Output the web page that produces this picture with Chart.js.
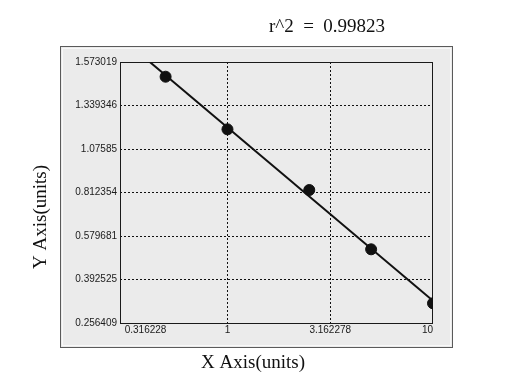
<!DOCTYPE html>
<html>
<head>
<meta charset="utf-8">
<script src="https://cdn.jsdelivr.net/npm/chart.js@4"></script>
<style>
	html, body { margin: 0; padding: 0; background: #fff; }
	#wrap { width: 515px; height: 386px; }
</style>
</head>
<body>
<div id="wrap"><canvas id="curveChart" width="515" height="386"></canvas></div>
<script>
// standard points
const concentrations = [0.5, 1, 2.5, 5, 10];
const responses = [1.4988, 1.2334, 0.9273, 0.6282, 0.3558];

// axis ticks as printed on the chart
const xTicks = [0.316228, 1, 3.162278, 10];
const xTickLabels = ["0.316228", "1", "3.162278", "10"];
const yTickLabels = ["0.256409", "0.392525", "0.579681", "0.812354", "1.07585", "1.339346", "1.573019"];

const fitLabel = "r^2  =  0.99823";
const xTitle = "X Axis(units)";
const yTitle = "Y Axis(units)";

const yMin = parseFloat(yTickLabels[0]);
const yMax = parseFloat(yTickLabels[yTickLabels.length - 1]);

// straight line fit of response vs log10(concentration)
function fitLine() {
	const lx = concentrations.map((v) => Math.log10(v));
	const n = lx.length;
	const mx = lx.reduce((a, b) => a + b, 0) / n;
	const my = responses.reduce((a, b) => a + b, 0) / n;
	let sxy = 0;
	let sxx = 0;
	for (let i = 0; i < n; i++) {
		sxy += (lx[i] - mx) * (responses[i] - my);
		sxx += (lx[i] - mx) * (lx[i] - mx);
	}
	const slope = sxy / sxx;
	const icpt = my - slope * mx;
	const ends = [xTicks[0], xTicks[xTicks.length - 1]];
	return ends.map((x) => ({ x: x, y: icpt + slope * Math.log10(x) }));
}

const edgeColor = (ctx) =>
	ctx.index === 0 || ctx.index === ctx.scale.ticks.length - 1 ? "rgba(0,0,0,0)" : "#111";

const panelPlugin = {
	id: "panel",
	beforeDraw(chart) {
		const c = chart.ctx;
		c.save();
		c.fillStyle = "#ffffff";
		c.fillRect(0, 0, chart.width, chart.height);
		// grey frame round the plot
		c.fillStyle = "#ebebeb";
		c.fillRect(60, 46, 393, 302);
		c.strokeStyle = "#5a5a5a";
		c.lineWidth = 1;
		c.strokeRect(60.5, 46.5, 392, 301);
		c.strokeStyle = "#f8f8f8";
		c.strokeRect(62.5, 48.5, 388, 297);
		c.restore();
	},
	beforeDatasetsDraw(chart) {
		const a = chart.chartArea;
		const c = chart.ctx;
		c.save();
		c.strokeStyle = "#1a1a1a";
		c.lineWidth = 1;
		c.strokeRect(a.left + 0.5, a.top + 0.5, a.right - a.left - 1, a.bottom - a.top);
		c.restore();
	},
	afterDraw(chart) {
		const c = chart.ctx;
		c.save();
		c.fillStyle = "#111";
		c.font = '19px "Liberation Serif", "Times New Roman", serif';
		c.textAlign = "center";
		c.textBaseline = "middle";
		c.fillText(fitLabel, 327, 27);
		c.fillText(xTitle, 253, 363);
		c.translate(41, 217);
		c.rotate(-Math.PI / 2);
		c.fillText(yTitle, 0, 0);
		c.restore();
	},
};

const ctx = document.getElementById("curveChart").getContext("2d");
const chart = new Chart(ctx, {
	type: "scatter",
	data: {
		datasets: [
			{
				label: "fit",
				type: "line",
				data: fitLine(),
				borderColor: "#111",
				borderWidth: 2,
				pointRadius: 0,
				fill: false,
			},
			{
				label: "standards",
				data: concentrations.map((x, i) => ({ x: x, y: responses[i] })),
				backgroundColor: "#111",
				borderColor: "#111",
				pointRadius: 5.5,
			},
		],
	},
	options: {
		responsive: false,
		animation: false,
		events: [],
		layout: { padding: { top: 62, right: 82, bottom: 0, left: 0 } },
		plugins: {
			legend: { display: false },
			tooltip: { enabled: false },
		},
		scales: {
			x: {
				type: "logarithmic",
				min: xTicks[0],
				max: xTicks[xTicks.length - 1],
				afterBuildTicks(scale) {
					scale.ticks = xTicks.map((v) => ({ value: v }));
				},
				afterFit(scale) {
					scale.height = 63;
				},
				ticks: {
					align: "inner",
					maxRotation: 0,
					autoSkip: false,
					padding: 1,
					color: "#1a1a1a",
					font: { family: '"Liberation Sans", Arial, sans-serif', size: 10 },
					callback: (v, i) => xTickLabels[i],
				},
				grid: { color: edgeColor, drawTicks: false, lineWidth: 1 },
				border: { display: false, dash: [2, 2] },
			},
			y: {
				type: "linear",
				min: yMin,
				max: yMax,
				afterBuildTicks(scale) {
					const step = (yMax - yMin) / (yTickLabels.length - 1);
					scale.ticks = yTickLabels.map((_, i) => ({ value: yMin + i * step }));
				},
				afterFit(scale) {
					scale.width = 120;
				},
				ticks: {
					autoSkip: false,
					padding: 3,
					color: "#1a1a1a",
					font: { family: '"Liberation Sans", Arial, sans-serif', size: 10 },
					callback: (v, i) => yTickLabels[i],
				},
				grid: { color: edgeColor, drawTicks: false, lineWidth: 1 },
				border: { display: false, dash: [2, 2] },
			},
		},
	},
	plugins: [panelPlugin],
});
</script>
</body>
</html>
